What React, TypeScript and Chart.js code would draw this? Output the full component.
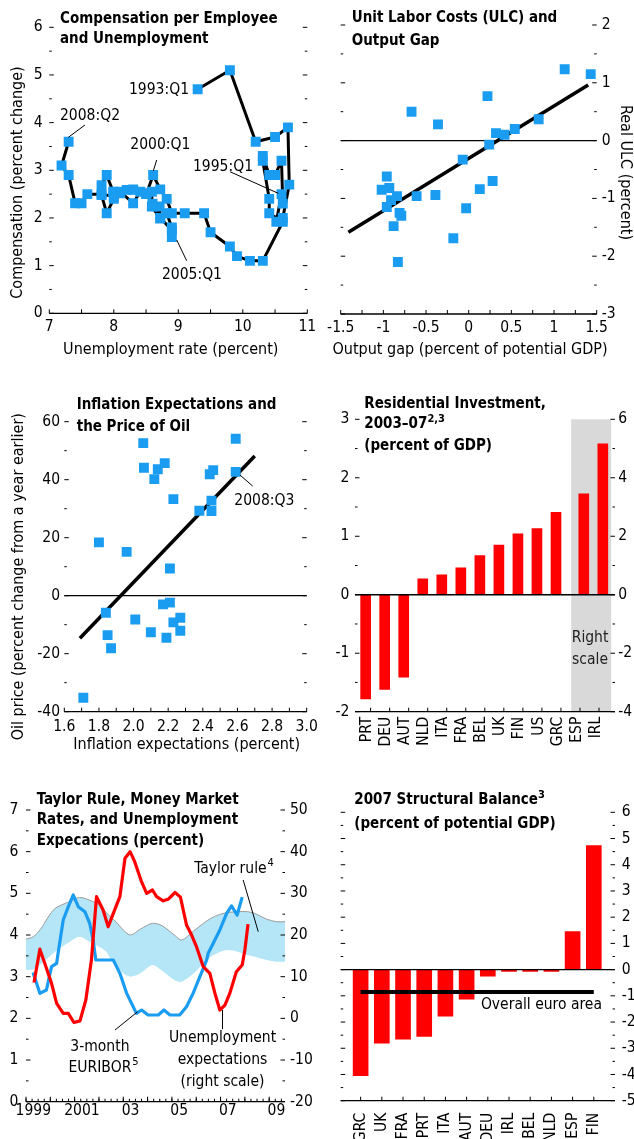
import React, { useEffect, useRef } from 'react';
import { Chart, registerables } from 'chart.js';

Chart.register(...registerables);

const FONT = '"DejaVu Sans Condensed", "Liberation Sans Narrow", "Arial Narrow", sans-serif';
const BLUE = '#1a9cf0';
const RED = '#ff0000';
const BAND = '#b5e6f7';
const GRAY_BOX = '#d9d9d9';

// ---------------- Panel 1: compensation vs unemployment (1993:Q1 - 2008:Q2) ----------------
const unempRate = [9.3, 9.8, 10.2, 10.5, 10.7, 10.72, 10.62, 10.52, 10.6, 10.62, 10.6, 10.5, 10.41, 10.31, 10.31, 10.41, 10.41, 10.62, 10.31, 10.11, 9.91, 9.8, 9.5, 9.4, 9.1, 8.9, 8.82, 8.72, 8.61, 8.51, 8.3, 8.2, 8.1, 7.99, 7.89, 7.81, 7.81, 7.89, 8.0, 8.1, 8.3, 8.41, 8.59, 8.59, 8.72, 8.71, 8.82, 8.9, 8.9, 8.9, 8.72, 8.6, 8.5, 8.3, 8.0, 7.81, 7.59, 7.5, 7.4, 7.3, 7.19, 7.3];
const compGrowth = [4.7, 5.1, 3.6, 3.7, 3.9, 2.7, 2.0, 1.92, 2.5, 2.3, 3.2, 2.9, 2.9, 3.3, 3.2, 2.4, 2.1, 1.92, 1.1, 1.1, 1.2, 1.4, 1.7, 2.1, 2.1, 2.1, 2.4, 2.6, 2.9, 2.52, 2.59, 2.59, 2.52, 2.55, 2.9, 2.69, 2.48, 2.1, 2.4, 2.55, 2.31, 2.55, 2.55, 2.24, 1.99, 2.24, 2.1, 1.8, 1.6, 1.75, 2.0, 2.3, 2.5, 2.6, 2.45, 2.5, 2.5, 2.31, 2.31, 2.9, 3.1, 3.6];

// ---------------- Panel 2: ULC vs output gap ----------------
const outputGap = [1.125, 1.43, -0.67, -0.36, 0.22, 0.82, 0.32, 0.42, 0.54, 0.24, -0.07, -0.96, 0.28, 0.13, -1.02, -0.93, -0.84, -0.91, -0.61, -0.39, -0.96, -0.03, -0.81, -0.79, -0.88, -0.18, -0.83];
const realUlc = [1.235, 1.15, 0.5, 0.28, 0.77, 0.37, 0.13, 0.1, 0.2, -0.07, -0.33, -0.62, -0.7, -0.84, -0.85, -0.82, -0.96, -1.03, -0.96, -0.94, -1.15, -1.17, -1.25, -1.3, -1.48, -1.69, -2.1];
const ulcFitX = [-1.41, 1.4];
const ulcFitY = [-1.585, 0.96];

// ---------------- Panel 3: inflation expectations vs oil price ----------------
const inflExp = [2.056, 2.59, 2.06, 2.14, 2.18, 2.12, 2.23, 2.44, 2.46, 2.59, 2.45, 2.38, 2.45, 1.8, 1.96, 2.21, 1.84, 1.85, 1.87, 2.01, 2.1, 2.17, 2.21, 2.19, 2.23, 2.27, 2.27, 1.71];
const oilPrice = [52.6, 54.1, 44.1, 43.6, 45.7, 40.2, 33.3, 41.9, 43.3, 42.7, 32.8, 29.3, 29.2, 18.4, 15.1, 9.4, -5.9, -13.6, -18.1, -8.2, -12.6, -3.0, -2.4, -14.5, -9.2, -7.6, -12.1, -35.2];
const oilFitX = [1.69, 2.7];
const oilFitY = [-14.7, 48.2];

// ---------------- Panel 4: residential investment ----------------
const resCountries = ['PRT', 'DEU', 'AUT', 'NLD', 'ITA', 'FRA', 'BEL', 'UK', 'FIN', 'US', 'GRC', 'ESP', 'IRL'];
const resInvest = [-1.78, -1.62, -1.41, 0.27, 0.34, 0.46, 0.67, 0.85, 1.04, 1.13, 1.41, 3.45, 5.16];
const resOnRightScale = [false, false, false, false, false, false, false, false, false, false, false, true, true];

// ---------------- Panel 5: Taylor rule, EURIBOR, unemployment expectations ----------------
const bandYears = [1999.0, 1999.3, 1999.6, 1999.9, 2000.2, 2000.7, 2001.2, 2001.6, 2002.0, 2002.3, 2002.5, 2002.7, 2003.0, 2003.3, 2003.7, 2004.2, 2004.6, 2005.1, 2005.4, 2005.9, 2006.3, 2006.6, 2007.0, 2007.3, 2007.7, 2008.1, 2008.4, 2008.9, 2009.3, 2009.65];
const taylorUpper = [3.9, 3.96, 4.14, 4.42, 4.64, 4.78, 4.9, 4.84, 4.72, 4.54, 4.42, 4.32, 4.12, 4.0, 4.14, 4.28, 4.22, 4.0, 3.88, 4.1, 4.28, 4.4, 4.5, 4.54, 4.56, 4.56, 4.52, 4.38, 4.32, 4.32];
const taylorLower = [3.16, 3.18, 3.3, 3.45, 3.6, 3.8, 3.96, 3.84, 3.72, 3.6, 3.4, 3.28, 3.08, 3.0, 3.08, 3.28, 3.14, 2.92, 2.88, 3.08, 3.32, 3.48, 3.6, 3.64, 3.6, 3.52, 3.48, 3.4, 3.36, 3.36];
const euriborYears = [1999.29, 1999.57, 1999.84, 2000.05, 2000.26, 2000.32, 2000.53, 2000.74, 2000.94, 2001.15, 2001.42, 2001.62, 2001.76, 2001.87, 2002.59, 2002.86, 2003.14, 2003.54, 2003.75, 2004.02, 2004.44, 2004.67, 2004.92, 2005.32, 2005.6, 2005.87, 2006.15, 2006.43, 2006.49, 2006.7, 2006.97, 2007.25, 2007.45, 2007.68, 2007.89];
const euribor = [3.1, 2.6, 2.68, 3.24, 3.32, 3.56, 4.36, 4.68, 4.96, 4.68, 4.56, 4.28, 3.88, 3.4, 3.4, 3.08, 2.6, 2.12, 2.2, 2.08, 2.08, 2.2, 2.08, 2.08, 2.28, 2.6, 3.0, 3.4, 3.56, 3.8, 4.12, 4.52, 4.7, 4.48, 4.91];
const unempExpYears = [1999.33, 1999.57, 1999.77, 2000.05, 2000.26, 2000.53, 2000.74, 2000.97, 2001.22, 2001.46, 2001.69, 2001.9, 2002.17, 2002.38, 2002.59, 2002.86, 2003.07, 2003.28, 2003.47, 2003.75, 2003.96, 2004.2, 2004.37, 2004.64, 2004.85, 2005.13, 2005.35, 2005.6, 2005.81, 2006.01, 2006.22, 2006.29, 2006.56, 2006.77, 2006.97, 2007.18, 2007.38, 2007.65, 2007.89, 2008.0, 2008.13];
const unempExp = [8.6, 16.6, 13.2, 8.4, 3.6, 1.2, 1.2, -1.0, -0.6, 4.4, 14, 29.2, 26, 22, 25.2, 29.2, 38.4, 40, 37.6, 32.8, 30, 30.8, 29.2, 28.2, 28.6, 30.2, 29.1, 22.4, 20, 17.2, 13.6, 12.4, 10.8, 6, 2.0, 3.2, 6, 11.2, 12.8, 16.4, 22.6];
const yearTickValues = [1999.3, 2001.3, 2003.3, 2005.3, 2007.3, 2009.3];
const yearTickLabels = ['1999', '2001', '03', '05', '07', '09'];

// ---------------- Panel 6: structural balance ----------------
const balCountries = ['GRC', 'UK', 'FRA', 'PRT', 'ITA', 'AUT', 'DEU', 'IRL', 'BEL', 'NLD', 'ESP', 'FIN'];
const balValues = [-4.05, -2.81, -2.65, -2.55, -1.78, -1.13, -0.25, -0.07, -0.07, -0.07, 1.45, 4.73];
const euroAreaBalance = -0.85;

// ---------------- helpers ----------------
const range = (a: number, b: number, step: number) => {
  const out: number[] = [];
  for (let v = a; v <= b + 1e-9; v += step) out.push(Math.round(v * 1000) / 1000);
  return out;
};

function drawItems(chart: any, items: any[], layer: string) {
  const { ctx, chartArea: ca, scales } = chart;
  ctx.save();
  for (const it of items) {
    if ((it.layer || 'after') !== layer) continue;
    ctx.strokeStyle = it.color || '#000';
    ctx.fillStyle = it.color || '#000';
    ctx.lineWidth = it.width || 1;
    ctx.lineCap = 'butt';
    if (it.kind === 'rect') {
      const xs = scales[it.xScale || 'x'];
      const x0 = xs.getPixelForValue(it.x0);
      const x1 = xs.getPixelForValue(it.x1);
      ctx.fillRect(x0, ca.top, x1 - x0, ca.bottom - ca.top);
    } else if (it.kind === 'hline') {
      const y = scales[it.yScale || 'y'].getPixelForValue(it.y);
      ctx.beginPath();
      ctx.moveTo(ca.left, y);
      ctx.lineTo(ca.right, y);
      ctx.stroke();
    } else if (it.kind === 'baseline') {
      ctx.beginPath();
      ctx.moveTo(ca.left, ca.bottom);
      ctx.lineTo(ca.right, ca.bottom);
      ctx.stroke();
    } else if (it.kind === 'yticks') {
      const s = scales[it.scale || 'y'];
      for (const v of it.values) {
        const y = s.getPixelForValue(v);
        ctx.beginPath();
        if (it.side === 'right') {
          ctx.moveTo(ca.right, y);
          ctx.lineTo(ca.right - it.len, y);
        } else {
          ctx.moveTo(ca.left, y);
          ctx.lineTo(ca.left + it.len, y);
        }
        ctx.stroke();
      }
    } else if (it.kind === 'xticks') {
      const s = scales[it.scale || 'x'];
      for (const v of it.values) {
        const x = s.getPixelForValue(v);
        ctx.beginPath();
        ctx.moveTo(x, ca.bottom);
        ctx.lineTo(x, ca.bottom - it.len);
        ctx.stroke();
      }
    } else if (it.kind === 'seg') {
      const xs = scales[it.xScale || 'x'];
      const ys = scales[it.yScale || 'y'];
      ctx.beginPath();
      ctx.moveTo(xs.getPixelForValue(it.x1), ys.getPixelForValue(it.y1));
      ctx.lineTo(xs.getPixelForValue(it.x2), ys.getPixelForValue(it.y2));
      ctx.stroke();
    } else if (it.kind === 'text') {
      let x: number;
      let y: number;
      if (it.px) {
        x = it.x;
        y = it.y;
      } else {
        x = scales[it.xScale || 'x'].getPixelForValue(it.x);
        y = scales[it.yScale || 'y'].getPixelForValue(it.y);
      }
      const size = it.size || 15.5;
      const font = `${it.bold ? 'bold ' : ''}${size}px ${FONT}`;
      ctx.save();
      ctx.translate(x, y);
      if (it.rot) ctx.rotate((it.rot * Math.PI) / 180);
      ctx.font = font;
      ctx.textBaseline = 'middle';
      const w = ctx.measureText(it.text).width;
      let start = 0;
      if (it.align === 'right') start = -w;
      else if (it.align !== 'left') start = -w / 2;
      ctx.textAlign = 'left';
      ctx.fillText(it.text, start, 0);
      if (it.sup) {
        ctx.font = `${Math.round(size * 0.7)}px ${FONT}`;
        ctx.fillText(it.sup, start + w + 1, -size * 0.38);
      }
      ctx.restore();
    }
  }
  ctx.restore();
}

function makeDecor(items: any[]) {
  return {
    id: 'decor',
    beforeDatasetsDraw(chart: any) {
      drawItems(chart, items, 'before');
    },
    afterDatasetsDraw(chart: any) {
      drawItems(chart, items, 'after');
    },
  };
}

function lin(o: any) {
  const s: any = {
    type: 'linear',
    min: o.min,
    max: o.max,
    position: o.position,
    offset: false,
    grid: { display: false, drawTicks: false },
    border: { display: false },
    ticks: {
      stepSize: o.step,
      padding: o.pad,
      font: { family: FONT, size: 15.5 },
      color: '#000',
      callback: o.cb || ((v: number) => String(Math.round(v * 100) / 100)),
      autoSkip: false,
      maxRotation: o.rot || 0,
      minRotation: o.rot || 0,
      includeBounds: false,
    },
    afterFit: (sc: any) => {
      if (o.w !== undefined) sc.width = o.w;
      if (o.h !== undefined) sc.height = o.h;
    },
  };
  if (o.ticksAt) {
    s.afterBuildTicks = (sc: any) => {
      sc.ticks = o.ticksAt.map((v: number) => ({ value: v }));
    };
  }
  return s;
}

function baseOptions(padding: any, scales: any) {
  return {
    animation: false,
    responsive: false,
    maintainAspectRatio: false,
    devicePixelRatio: 1,
    events: [],
    layout: { padding },
    plugins: { legend: { display: false }, tooltip: { enabled: false }, title: { display: false } },
    scales,
  };
}

const yTickSet = (lo: number, hi: number, major: number, minorOffset: number) => [
  { kind: 'yticks', side: 'left', values: range(lo, hi, major), len: 4.5 },
  { kind: 'yticks', side: 'left', values: range(lo + minorOffset, hi - minorOffset, major), len: 2.5 },
  { kind: 'yticks', side: 'right', values: range(lo, hi, major), len: 4.5 },
  { kind: 'yticks', side: 'right', values: range(lo + minorOffset, hi - minorOffset, major), len: 2.5 },
];

// ---------------- chart builders ----------------
function buildP1() {
  const items = [
    { kind: 'baseline', width: 1.3 },
    ...yTickSet(0, 6, 1, 0.5),
    { kind: 'xticks', values: range(7, 11, 0.5), len: 4 },
    { kind: 'text', x: 9.166, y: 4.684, text: '1993:Q1', align: 'right' },
    { kind: 'text', x: 7.631, y: 4.139, text: '2008:Q2' },
    { kind: 'seg', x1: 7.295, y1: 3.692, x2: 7.553, y2: 3.95 },
    { kind: 'text', x: 8.721, y: 3.524, text: '2000:Q1' },
    { kind: 'seg', x1: 8.665, y1: 3.216, x2: 8.612, y2: 2.985 },
    { kind: 'text', x: 9.693, y: 3.075, text: '1995:Q1' },
    { kind: 'seg', x1: 9.802, y1: 2.97, x2: 10.55, y2: 2.517 },
    { kind: 'text', x: 9.212, y: 0.803, text: '2005:Q1' },
    { kind: 'seg', x1: 8.975, y1: 1.538, x2: 9.13, y2: 1.103 },
    { kind: 'text', px: true, x: 170.8, y: 350, text: 'Unemployment rate (percent)', size: 16 },
    { kind: 'text', px: true, x: 17.5, y: 182.5, rot: -90, text: 'Compensation (percent change)', size: 16 },
  ];
  return {
    type: 'scatter',
    data: {
      datasets: [
        {
          data: unempRate.map((x, i) => ({ x, y: compGrowth[i] })),
          showLine: true,
          borderColor: '#000',
          borderWidth: 3,
          borderJoinStyle: 'round',
          pointStyle: 'rect',
          pointRadius: 7,
          pointBackgroundColor: BLUE,
          pointBorderWidth: 0,
          pointBorderColor: BLUE,
        },
      ],
    },
    options: baseOptions({ left: 0, top: 27.3, right: 17.7, bottom: 0 }, {
      x: lin({ min: 7, max: 11, step: 1, position: 'bottom', pad: 4.1, h: 51.7 }),
      y: lin({ min: 0, max: 6, step: 1, position: 'left', pad: 6.6, w: 49.3 }),
    }),
    plugins: [makeDecor(items)],
  };
}

function buildP2() {
  const items = [
    { kind: 'hline', y: 0, width: 1.3, layer: 'before' },
    { kind: 'baseline', width: 1.3 },
    ...yTickSet(-3, 2, 1, 0.5),
    { kind: 'xticks', values: range(-1.5, 1.5, 0.25), len: 4 },
    { kind: 'text', px: true, x: 155, y: 350, text: 'Output gap (percent of potential GDP)', size: 16 },
    { kind: 'text', px: true, x: 310, y: 172.5, rot: 90, text: 'Real ULC (percent)', size: 16 },
  ];
  return {
    type: 'scatter',
    data: {
      datasets: [
        {
          type: 'line',
          data: ulcFitX.map((x, i) => ({ x, y: ulcFitY[i] })),
          showLine: true,
          borderColor: '#000',
          borderWidth: 3.5,
          pointRadius: 0,
          fill: false,
          order: 2,
        },
        {
          data: outputGap.map((x, i) => ({ x, y: realUlc[i] })),
          pointStyle: 'rect',
          pointRadius: 7,
          pointBackgroundColor: BLUE,
          pointBorderWidth: 0,
          order: 1,
        },
      ],
    },
    options: baseOptions({ left: 25.7, top: 25, right: 0, bottom: 0 }, {
      x: lin({ min: -1.5, max: 1.5, step: 0.5, position: 'bottom', pad: 5, h: 51 }),
      y: lin({ min: -3, max: 2, step: 1, position: 'right', pad: 5, w: 37.3 }),
    }),
    plugins: [makeDecor(items)],
  };
}

function buildP3() {
  const items = [
    { kind: 'hline', y: 0, width: 1.3, layer: 'before' },
    { kind: 'baseline', width: 1.3 },
    ...yTickSet(-40, 60, 20, 10),
    { kind: 'xticks', values: range(1.6, 3.0, 0.1), len: 4 },
    { kind: 'text', x: 2.755, y: 32.76, text: '2008:Q3' },
    { kind: 'seg', x1: 2.615, y1: 41.6, x2: 2.688, y2: 37.8 },
    { kind: 'text', px: true, x: 186.7, y: 370, text: 'Inflation expectations (percent)', size: 16 },
    { kind: 'text', px: true, x: 19, y: 201.7, rot: -90, text: 'Oil price (percent change from a year earlier)', size: 16 },
  ];
  return {
    type: 'scatter',
    data: {
      datasets: [
        {
          type: 'line',
          data: oilFitX.map((x, i) => ({ x, y: oilFitY[i] })),
          showLine: true,
          borderColor: '#000',
          borderWidth: 3.5,
          pointRadius: 0,
          fill: false,
          order: 2,
        },
        {
          data: inflExp.map((x, i) => ({ x, y: oilPrice[i] })),
          pointStyle: 'rect',
          pointRadius: 7,
          pointBackgroundColor: BLUE,
          pointBorderWidth: 0,
          order: 1,
        },
      ],
    },
    options: baseOptions({ left: 0, top: 46.7, right: 18.3, bottom: 0 }, {
      x: lin({ min: 1.6, max: 3.0, step: 0.2, position: 'bottom', pad: 5.7, h: 48.3, cb: (v: number) => v.toFixed(1) }),
      y: lin({ min: -40, max: 60, step: 20, position: 'left', pad: 4.3, w: 64.3 }),
    }),
    plugins: [makeDecor(items)],
  };
}

function buildP4() {
  const leftBars: any[] = [];
  const rightBars: any[] = [];
  resInvest.forEach((v, i) => {
    if (resOnRightScale[i]) rightBars.push({ x: i + 0.46, y: v });
    else leftBars.push({ x: i, y: v });
  });
  const items = [
    { kind: 'rect', x0: 10.8, x1: 12.9, color: GRAY_BOX, layer: 'before' },
    { kind: 'hline', y: 0, width: 1.3 },
    { kind: 'baseline', width: 1.3 },
    ...yTickSet(-2, 3, 1, 0.5),
    { kind: 'xticks', values: resCountries.map((_, i) => i + 0.26), len: 4 },
    { kind: 'text', x: 11.79, y: -0.735, text: 'Right', color: '#222' },
    { kind: 'text', x: 11.79, y: -1.11, text: 'scale', color: '#222' },
  ];
  return {
    type: 'bar',
    data: {
      datasets: [
        { data: leftBars, yAxisID: 'y', backgroundColor: RED, barThickness: 10, grouped: false },
        { data: rightBars, yAxisID: 'y2', backgroundColor: RED, barThickness: 10, grouped: false },
      ],
    },
    options: baseOptions({ left: 0, top: 44.3, right: 0, bottom: 0 }, {
      x: lin({
        min: -0.56,
        max: 13.1,
        position: 'bottom',
        pad: 5,
        h: 48.3,
        rot: 90,
        ticksAt: resCountries.map((_, i) => i + 0.08),
        cb: (_v: number, i: number) => resCountries[i],
      }),
      y: lin({ min: -2, max: 3, step: 1, position: 'left', pad: 5.7, w: 40 }),
      y2: lin({ min: -4, max: 6, step: 2, position: 'right', pad: 3.3, w: 19 }),
    }),
    plugins: [makeDecor(items)],
  };
}

function buildP5() {
  const items = [
    { kind: 'baseline', width: 1.3 },
    ...yTickSet(0, 7, 1, 0.5),
    { kind: 'xticks', values: range(1999, 2009.5, 0.25), len: 3 },
    { kind: 'xticks', values: range(1999, 2009, 1), len: 5 },
    { kind: 'text', x: 2005.92, y: 5.58, text: 'Taylor rule', align: 'left', sup: '4' },
    { kind: 'seg', x1: 2007.93, y1: 5.32, x2: 2008.55, y2: 4.08 },
    { kind: 'text', x: 2002.04, y: 1.32, text: '3-month' },
    { kind: 'text', x: 2002.04, y: 0.8, text: 'EURIBOR', sup: '5' },
    { kind: 'seg', x1: 2002.66, y1: 1.72, x2: 2003.59, y2: 2.16 },
    { kind: 'text', x: 2007.08, y: 1.52, text: 'Unemployment' },
    { kind: 'text', x: 2007.08, y: 1.0, text: 'expectations' },
    { kind: 'text', x: 2007.08, y: 0.48, text: '(right scale)' },
    { kind: 'seg', x1: 2007.08, y1: 1.74, x2: 2007.08, y2: 2.2 },
  ];
  return {
    type: 'line',
    data: {
      datasets: [
        {
          data: bandYears.map((x, i) => ({ x, y: taylorUpper[i] })),
          yAxisID: 'y',
          borderColor: '#9a9a9a',
          borderWidth: 1,
          backgroundColor: BAND,
          fill: '+1',
          pointRadius: 0,
          tension: 0.3,
          order: 3,
        },
        {
          data: bandYears.map((x, i) => ({ x, y: taylorLower[i] })),
          yAxisID: 'y',
          borderColor: 'rgba(0,0,0,0)',
          borderWidth: 1,
          fill: false,
          pointRadius: 0,
          tension: 0.3,
          order: 3,
        },
        {
          data: euriborYears.map((x, i) => ({ x, y: euribor[i] })),
          yAxisID: 'y',
          borderColor: BLUE,
          borderWidth: 3.2,
          borderJoinStyle: 'round',
          fill: false,
          pointRadius: 0,
          order: 2,
        },
        {
          data: unempExpYears.map((x, i) => ({ x, y: unempExp[i] })),
          yAxisID: 'y2',
          borderColor: RED,
          borderWidth: 3.2,
          borderJoinStyle: 'round',
          fill: false,
          pointRadius: 0,
          order: 1,
        },
      ],
    },
    options: baseOptions({ left: 0, top: 40, right: 0, bottom: 0 }, {
      x: lin({
        min: 1999,
        max: 2009.65,
        position: 'bottom',
        pad: 0,
        h: 37.3,
        ticksAt: yearTickValues,
        cb: (_v: number, i: number) => yearTickLabels[i],
      }),
      y: lin({ min: 0, max: 7, step: 1, position: 'left', pad: 7.7, w: 26 }),
      y2: lin({ min: -20, max: 50, step: 10, position: 'right', pad: 5, w: 40 }),
    }),
    plugins: [makeDecor(items)],
  };
}

function buildP6() {
  const items = [
    { kind: 'hline', y: 0, width: 1.3 },
    { kind: 'baseline', width: 1.3 },
    ...yTickSet(-5, 6, 1, 0.5),
    { kind: 'xticks', values: balCountries.map((_, i) => i), len: 4 },
    { kind: 'text', x: 8.53, y: -1.34, text: 'Overall euro area' },
  ];
  return {
    type: 'bar',
    data: {
      datasets: [
        {
          type: 'line',
          data: [
            { x: 0, y: euroAreaBalance },
            { x: balCountries.length - 1, y: euroAreaBalance },
          ],
          borderColor: '#000',
          borderWidth: 4,
          pointRadius: 0,
          fill: false,
          order: 0,
        },
        {
          data: balValues.map((v, i) => ({ x: i, y: v })),
          backgroundColor: RED,
          barThickness: 15,
          grouped: false,
          order: 1,
        },
      ],
    },
    options: baseOptions({ left: 25.7, top: 42.3, right: 0, bottom: 0 }, {
      x: lin({
        min: -0.94,
        max: 12.0,
        position: 'bottom',
        pad: 12,
        h: 38.3,
        rot: 90,
        ticksAt: balCountries.map((_, i) => i),
        cb: (_v: number, i: number) => balCountries[i],
      }),
      y: lin({ min: -5, max: 6, step: 1, position: 'right', pad: 6.7, w: 19 }),
    }),
    plugins: [makeDecor(items)],
  };
}

function ChartBox(props: { left: number; top: number; width: number; height: number; build: () => any }) {
  const ref = useRef<HTMLCanvasElement>(null);
  useEffect(() => {
    const chart = new Chart(ref.current as HTMLCanvasElement, props.build());
    return () => chart.destroy();
  }, []);
  return (
    <div style={{ position: 'absolute', left: props.left, top: props.top, width: props.width, height: props.height }}>
      <canvas ref={ref} width={props.width} height={props.height} style={{ width: props.width, height: props.height, display: 'block' }} />
    </div>
  );
}

const titleStyle = (left: number, top: number, lh: number): React.CSSProperties => ({
  position: 'absolute',
  left,
  top,
  fontFamily: FONT,
  fontWeight: 'bold',
  fontSize: 15,
  lineHeight: lh + 'px',
  color: '#000',
  whiteSpace: 'nowrap',
});

const supStyle: React.CSSProperties = { fontSize: 11, position: 'relative', top: -6 };

export default function App() {
  return (
    <div style={{ position: 'absolute', left: 0, top: 0, width: 634, height: 1139, background: '#fff', overflow: 'hidden' }}>
      <ChartBox left={0} top={0} width={325} height={365} build={buildP1} />
      <ChartBox left={315} top={0} width={319} height={365} build={buildP2} />
      <ChartBox left={0} top={375} width={325} height={385} build={buildP3} />
      <ChartBox left={315} top={375} width={319} height={385} build={buildP4} />
      <ChartBox left={0} top={770} width={325} height={369} build={buildP5} />
      <ChartBox left={315} top={770} width={319} height={369} build={buildP6} />

      <div style={titleStyle(60, 7.5, 20)}>
        Compensation per Employee
        <br />
        and Unemployment
      </div>
      <div style={titleStyle(351.7, 6, 23)}>
        Unit Labor Costs (ULC) and
        <br />
        Output Gap
      </div>
      <div style={titleStyle(76.7, 393, 22.4)}>
        Inflation Expectations and
        <br />
        the Price of Oil
      </div>
      <div style={titleStyle(364.3, 393, 20)}>
        Residential Investment,
        <br />
        2003–07<span style={supStyle}>2,3</span>
        <br />
        (percent of GDP)
      </div>
      <div style={titleStyle(36.7, 788.5, 20.5)}>
        Taylor Rule, Money Market
        <br />
        Rates, and Unemployment
        <br />
        Expecations (percent)
      </div>
      <div style={titleStyle(354.3, 788, 22)}>
        2007 Structural Balance<span style={supStyle}>3</span>
        <br />
        (percent of potential GDP)
      </div>
    </div>
  );
}
